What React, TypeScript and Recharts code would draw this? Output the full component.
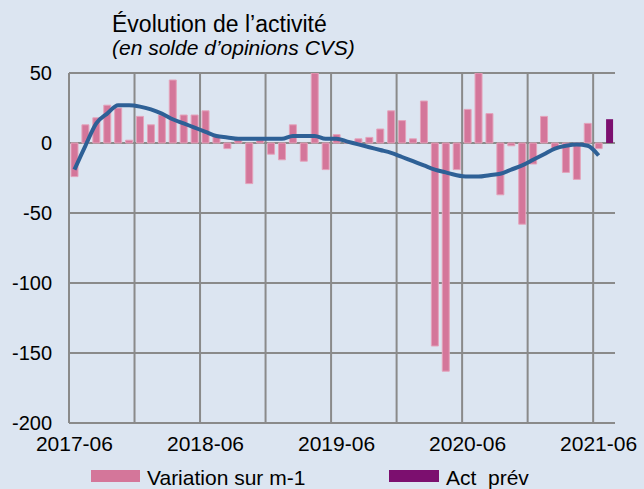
import { ComposedChart, Bar, Line, XAxis, YAxis, CartesianGrid } from 'recharts';

const months = [
  '2017-06', '2017-07', '2017-08', '2017-09', '2017-10', '2017-11', '2017-12',
  '2018-01', '2018-02', '2018-03', '2018-04', '2018-05', '2018-06', '2018-07',
  '2018-08', '2018-09', '2018-10', '2018-11', '2018-12', '2019-01', '2019-02',
  '2019-03', '2019-04', '2019-05', '2019-06', '2019-07', '2019-08', '2019-09',
  '2019-10', '2019-11', '2019-12', '2020-01', '2020-02', '2020-03', '2020-04',
  '2020-05', '2020-06', '2020-07', '2020-08', '2020-09', '2020-10', '2020-11',
  '2020-12', '2021-01', '2021-02', '2021-03', '2021-04', '2021-05', '2021-06',
  '2021-07',
];

const variation = [
  -24, 13, 18, 27, 25, 2, 19, 13, 20, 45, 20, 20, 23, 5, -4, 2, -29, 2, -8, -12,
  13, -13, 51, -19, 6, 1, 3, 4, 10, 23, 16, 3, 30, -145, -163, -19, 24, 51, 21, -37,
  -2, -58, -15, 19, -4, -21, -26, 14, -4, null,
];

const actPrev = [
  null, null, null, null, null, null, null, null, null, null, null, null, null, null,
  null, null, null, null, null, null, null, null, null, null, null, null, null, null,
  null, null, null, null, null, null, null, null, null, null, null, null, null, null,
  null, null, null, null, null, null, null, 17,
];

const trend = [
  -19, -2, 14, 21, 27, 27, 26, 24, 21, 17, 14, 11, 8, 5, 4, 3, 3, 3, 3, 3,
  5, 5, 5, 3, 3, 1, -1, -3, -5, -7, -10, -13, -16, -19, -21, -23, -24, -24, -23, -22,
  -19, -16, -12, -8, -4, -2, -1, -2, -9, null,
];

const xTicks = ['2017-06', '2018-06', '2019-06', '2020-06', '2021-06'];
const yTicks = [-200, -150, -100, -50, 0, 50];

const FONT = '"Liberation Sans", Arial, sans-serif';
const BG = '#DCE5F1';
const PINK = '#D4769A';
const PURPLE = '#7C0F6F';
const BLUE = '#2E6096';
const GRID = '#8A8A8A';

const data = months.map((m, i) => ({
  m,
  variation: variation[i],
  actPrev: actPrev[i],
  trend: trend[i],
}));

// vertical lines every 6 months, on category boundaries
const vGrid = ({ offset }: any) => {
  const pts: number[] = [];
  for (let j = 0; j * 6 < months.length; j++) {
    pts.push(offset.left + (offset.width * j * 6) / months.length);
  }
  return pts;
};

export default function App() {
  return (
    <div style={{ position: 'absolute', left: 0, top: 0, width: 644, height: 489, background: BG, fontFamily: FONT }}>
      <div style={{ position: 'absolute', left: 112, top: 13, fontSize: 23, lineHeight: 1, color: '#000', whiteSpace: 'nowrap' }}>
        Évolution de l’activité
      </div>
      <div style={{ position: 'absolute', left: 112, top: 37, fontSize: 21, lineHeight: 1, fontStyle: 'italic', color: '#000', whiteSpace: 'nowrap' }}>
        (en solde d’opinions CVS)
      </div>

      <ComposedChart
        width={644}
        height={489}
        data={data}
        stackOffset="sign"
        margin={{ top: 73, right: 29, bottom: 36, left: 9 }}
      >
        <CartesianGrid stroke={GRID} strokeWidth={2} verticalCoordinatesGenerator={vGrid} />
        <XAxis
          dataKey="m"
          ticks={xTicks}
          interval={0}
          axisLine={false}
          tickLine={false}
          tickSize={0}
          tickMargin={13}
          height={30}
          tick={{ fontSize: 21, fill: '#000', fontFamily: FONT }}
        />
        <YAxis
          domain={[-200, 50]}
          ticks={yTicks}
          allowDataOverflow
          axisLine={false}
          tickLine={false}
          tickSize={0}
          tickMargin={17}
          width={60}
          tick={{ fontSize: 20, fill: '#000', fontFamily: FONT }}
        />
        <Bar dataKey="variation" stackId="s" barSize={7} fill={PINK} stroke="#E4A3BB" strokeWidth={1} isAnimationActive={false} />
        <Bar dataKey="actPrev" stackId="s" barSize={7} fill={PURPLE} isAnimationActive={false} />
        <Line dataKey="trend" type="monotone" stroke={BLUE} strokeWidth={4} dot={false} activeDot={false} isAnimationActive={false} />
      </ComposedChart>

      <div style={{ position: 'absolute', left: 91, top: 470, width: 49, height: 12, background: PINK }} />
      <div style={{ position: 'absolute', left: 147, top: 467, fontSize: 21, lineHeight: 1, color: '#000', whiteSpace: 'nowrap' }}>
        Variation sur m-1
      </div>
      <div style={{ position: 'absolute', left: 389, top: 470, width: 50, height: 12, background: PURPLE }} />
      <div style={{ position: 'absolute', left: 446, top: 467, fontSize: 21, lineHeight: 1, color: '#000', whiteSpace: 'pre' }}>
        {'Act  prév'}
      </div>
    </div>
  );
}
